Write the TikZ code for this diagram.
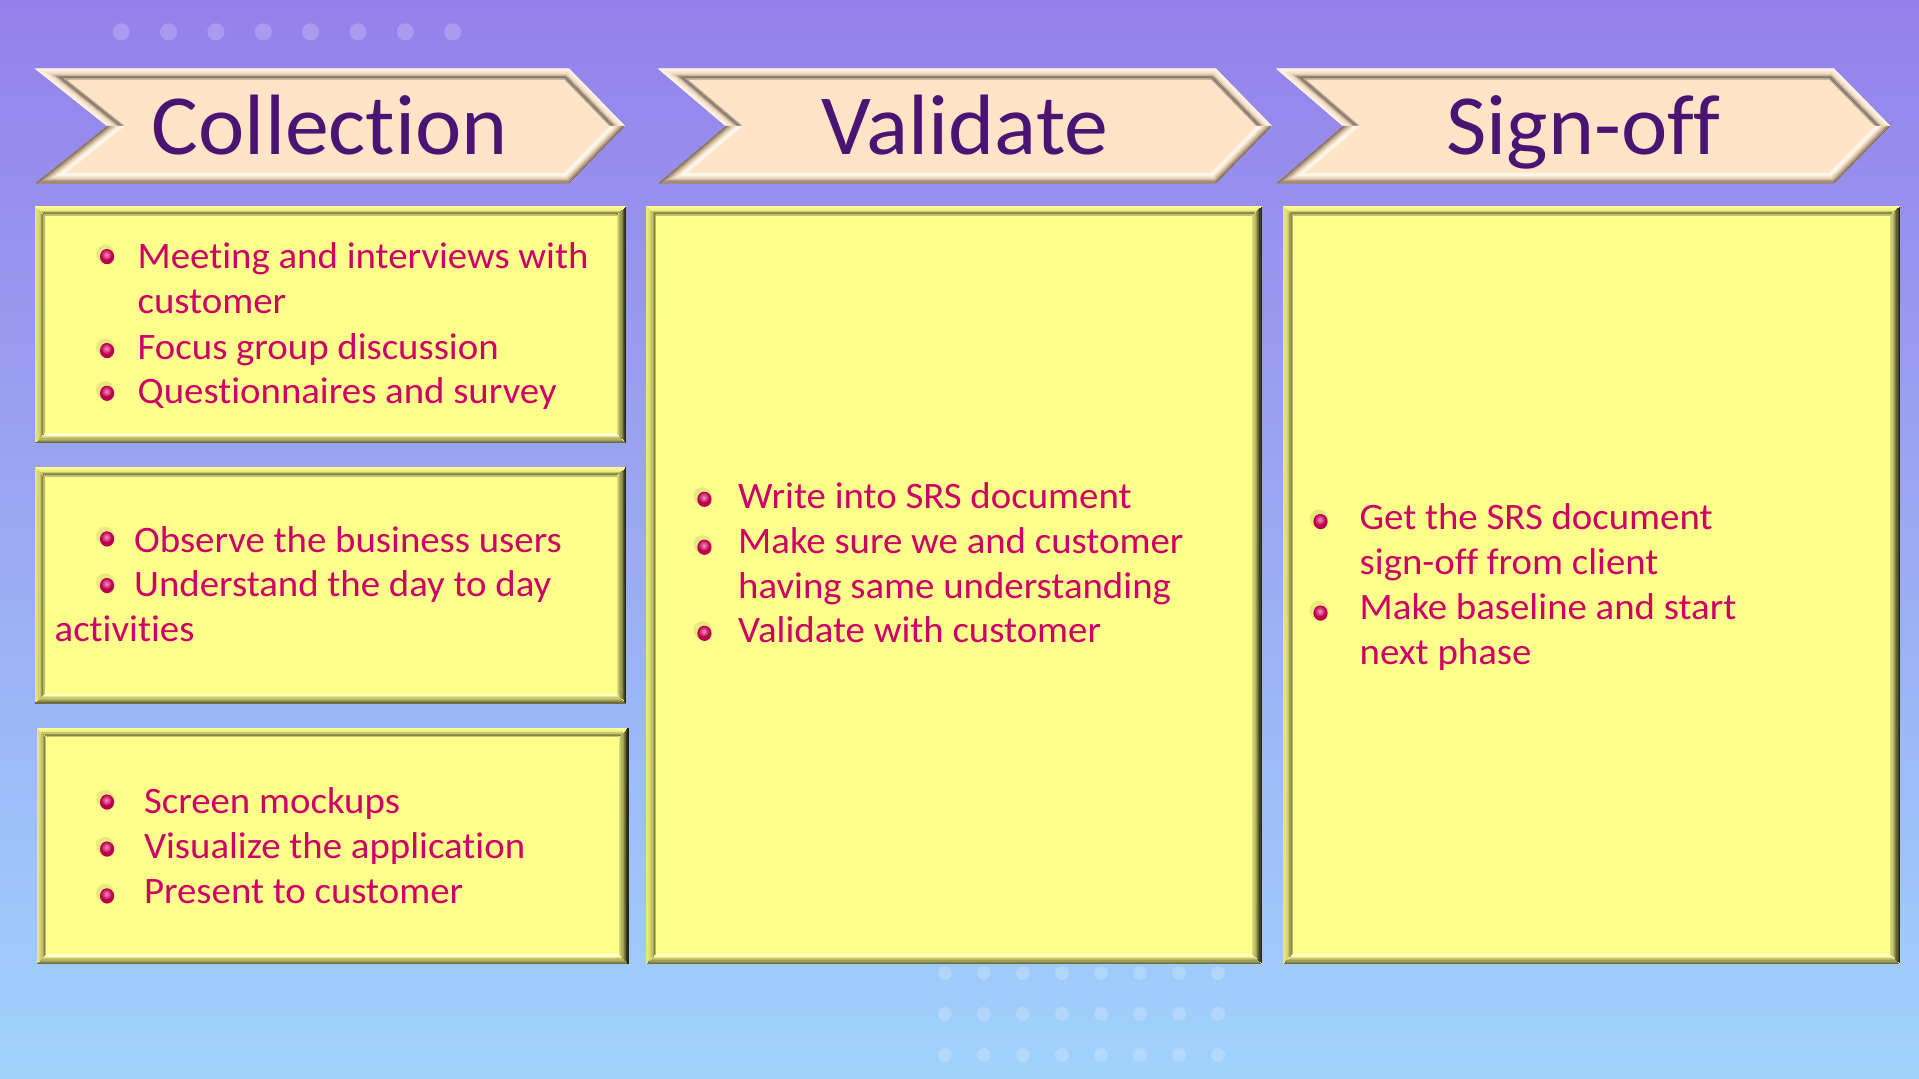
\documentclass[tikz,border=0pt]{standalone}
\usepackage{fontspec}
\setmainfont{Carlito}[FakeStretch=1.04, Ligatures=NoCommon]
\newfontfamily\titlefont{Carlito}[FakeStretch=1.025, Ligatures=NoCommon]
\definecolor{bgtop}{HTML}{9580EB}
\definecolor{bgmid}{HTML}{9AAAF3}
\definecolor{bgbot}{HTML}{A0D3FC}
\definecolor{itemc}{HTML}{CC0066}
\definecolor{titlec}{HTML}{4A1472}
\definecolor{boxfill}{HTML}{FFFF8C}
\definecolor{chfill}{HTML}{FFE4C8}
\definecolor{ballin}{HTML}{FF8CC4}
\definecolor{ballout}{HTML}{B8004C}
% box bevel colours, outer (0) to inner (7)
\definecolor{bxT0}{HTML}{FFFF9A}\definecolor{bxT1}{HTML}{FCFC92}\definecolor{bxT2}{HTML}{F6F68A}\definecolor{bxT3}{HTML}{EEEE82}
\definecolor{bxT4}{HTML}{C8C86A}\definecolor{bxT5}{HTML}{96964E}\definecolor{bxT6}{HTML}{84844A}\definecolor{bxT7}{HTML}{C0C070}
\definecolor{bxL0}{HTML}{E8E87C}\definecolor{bxL1}{HTML}{E2E278}\definecolor{bxL2}{HTML}{DCDC74}\definecolor{bxL3}{HTML}{D4D470}
\definecolor{bxL4}{HTML}{C4C468}\definecolor{bxL5}{HTML}{9E9E54}\definecolor{bxL6}{HTML}{88884A}\definecolor{bxL7}{HTML}{B8B868}
\definecolor{bxB0}{HTML}{6E6E3C}\definecolor{bxB1}{HTML}{86864A}\definecolor{bxB2}{HTML}{9E9E56}\definecolor{bxB3}{HTML}{B4B464}
\definecolor{bxB4}{HTML}{CACA72}\definecolor{bxB5}{HTML}{E4E488}\definecolor{bxB6}{HTML}{FFFFB8}\definecolor{bxB7}{HTML}{FFFFD8}
\definecolor{bxR0}{HTML}{262614}\definecolor{bxR1}{HTML}{3E3E22}\definecolor{bxR2}{HTML}{5E5E32}\definecolor{bxR3}{HTML}{7E7E42}
\definecolor{bxR4}{HTML}{9C9C52}\definecolor{bxR5}{HTML}{B4B460}\definecolor{bxR6}{HTML}{C8C86C}\definecolor{bxR7}{HTML}{DCDC7A}
% chevron bevel colours, outer (0) to inner (8)
\definecolor{chL0}{HTML}{FFF6E8}\definecolor{chL1}{HTML}{FFF0DE}\definecolor{chL2}{HTML}{FCEAD6}\definecolor{chL3}{HTML}{F6E2CC}
\definecolor{chL4}{HTML}{EAD4BC}\definecolor{chL5}{HTML}{C8B4A0}\definecolor{chL6}{HTML}{9A8878}\definecolor{chL7}{HTML}{857567}
\definecolor{chL8}{HTML}{B0A090}
\definecolor{chD0}{HTML}{7E6C5E}\definecolor{chD1}{HTML}{9A8672}\definecolor{chD2}{HTML}{B8A088}\definecolor{chD3}{HTML}{D2BCA0}
\definecolor{chD4}{HTML}{E6D2B8}\definecolor{chD5}{HTML}{F4E4CE}\definecolor{chD6}{HTML}{FFF2E2}\definecolor{chD7}{HTML}{FFFAF0}
\definecolor{chD8}{HTML}{FFF2E4}
\tikzset{
  itemtext/.style={anchor=base west, text=itemc, font=\fontsize{30.5}{36}\selectfont, inner sep=0pt},
  titletext/.style={anchor=base, text=titlec, font=\titlefont\fontsize{70}{84}\selectfont, inner sep=0pt},
  bgdot/.style={fill=white, fill opacity=0.2},
  bevline/.style={line width=1.1pt},
}
\newcommand\bul[2]{%
  \fill[black!55!yellow, opacity=0.18] (#1-1.5,#2-2.5) circle [radius=7.5];
  \fill[ballout] (#1,#2) circle [x radius=5.8, y radius=6.2];
  \shade[inner color=ballin, outer color=ballout] (#1-0.6,#2-1.6) circle [x radius=4.6, y radius=4.6];
}
\newcommand\bevbox[4]{%
  \fill[boxfill] (#1,#2) rectangle (#3,#4);
  \foreach \k in {0,...,7}{
    \pgfmathsetmacro\tk{\k+0.5}
    \draw[bxT\k, bevline] (#1+\tk,#2+\tk) -- (#3-\tk,#2+\tk);
    \draw[bxL\k, bevline] (#1+\tk,#2+\tk) -- (#1+\tk,#4-\tk);
    \draw[bxB\k, bevline] (#1+\tk,#4-\tk) -- (#3-\tk,#4-\tk);
    \draw[bxR\k, bevline] (#3-\tk,#2+\tk) -- (#3-\tk,#4-\tk);
  }
}
\newcommand\chev[6]{%
  \pgfmathsetmacro\chS{(#2-#1)/47}
  \pgfmathsetmacro\chR{(#4-#3)/47}
  \pgfmathsetmacro\chQs{sqrt(1+\chS*\chS)}
  \pgfmathsetmacro\chQr{sqrt(1+\chR*\chR)}
  \fill[chfill] (#1,56) -- (#3,56) -- (#4,103) -- (#3,150) -- (#1,150) -- (#2,103) -- cycle;
  \foreach \k in {0,...,8}{
    \pgfmathsetmacro\tk{\k+0.5}
    \pgfmathsetmacro\chAx{#1+\tk*(\chS+\chQs)}
    \pgfmathsetmacro\chBx{#3+\tk*(\chR-\chQr)}
    \pgfmathsetmacro\chCx{#4-\tk*\chQr}
    \pgfmathsetmacro\chFx{#2+\tk*\chQs}
    \draw[chL\k, bevline] (\chFx,103) -- (\chAx,56+\tk) -- (\chBx,56+\tk) -- (\chCx,103);
    \draw[chD\k, bevline] (\chCx,103) -- (\chBx,150-\tk) -- (\chAx,150-\tk) -- (\chFx,103);
  }
  \node[titletext] (#5) at ({(#1+#4)/2},126.6) {#6};
}
\begin{document}
\begin{tikzpicture}[x=1pt, y=-1pt]
\useasboundingbox (0,0) rectangle (1568,881.6);
\shade[top color=bgtop, middle color=bgmid, bottom color=bgbot] (0,0) rectangle (1568,881.6);
% decorative dots
\foreach \i in {0,...,7}{
  \fill[bgdot] (99+38.7*\i,26) circle [radius=7];
}
\foreach \i in {0,...,7}{
  \foreach \yy in {795,828.5,862}{
    \fill[bgdot] (772+31.9*\i,\yy) circle [radius=5.7];
  }
}
% chevrons
\chev{28.5}{87.5}{465}{510.7}{collection}{Collection}
\chev{537.6}{592.9}{993.4}{1039.3}{validate}{Validate}
\chev{1042.7}{1097.3}{1498.5}{1544.6}{signoff}{Sign-off}
% boxes
\bevbox{28.5}{168.3}{511.8}{362.2}
\bevbox{28.5}{381.4}{511.8}{574.8}
\bevbox{29.9}{594.5}{513.6}{787.8}
\bevbox{528.2}{168.3}{1031}{787.6}
\bevbox{1048.5}{168.3}{1552.4}{787.6}
% box 1
\bul{87.5}{209.7}\bul{87.5}{286.5}\bul{87.5}{321.4}
\node[itemtext] (c1a) at (112.3,219.2) {Meeting and interviews with};
\node[itemtext] (c1b) at (112.3,256) {customer};
\node[itemtext] (c1c) at (112.3,293.6) {Focus group discussion};
\node[itemtext] (c1d) at (112.3,329.5) {Questionnaires and survey};
% box 2
\bul{87.5}{440.4}\bul{87.5}{478.5}
\node[itemtext] (c2a) at (109.4,451.3) {Observe the business users};
\node[itemtext] (c2b) at (109.4,487.3) {Understand the day to day};
\node[itemtext] (c2c) at (44.5,524.3) {activities};
% box 3
\bul{87.5}{655.4}\bul{87.5}{693.8}\bul{87.5}{732.1}
\node[itemtext] (c3a) at (117.5,664.3) {Screen mockups};
\node[itemtext] (c3b) at (117.5,701.3) {Visualize the application};
\node[itemtext] (c3c) at (117.5,738) {Present to customer};
% validate box
\bul{575.6}{408}\bul{575.6}{447.2}\bul{575.6}{517.5}
\node[itemtext] (v1) at (603,415.3) {Write into SRS document};
\node[itemtext] (v2) at (603,452) {Make sure we and customer};
\node[itemtext] (v3) at (603,488.7) {having same understanding};
\node[itemtext] (v4) at (603,525.3) {Validate with customer};
% sign-off box
\bul{1079}{426.2}\bul{1079}{501}
\node[itemtext] (s1) at (1110.8,433) {Get the SRS document};
\node[itemtext] (s2) at (1110.8,469.8) {sign-off from client};
\node[itemtext] (s3) at (1110.8,506.5) {Make baseline and start};
\node[itemtext] (s4) at (1110.8,543) {next phase};
\end{tikzpicture}
\end{document}
